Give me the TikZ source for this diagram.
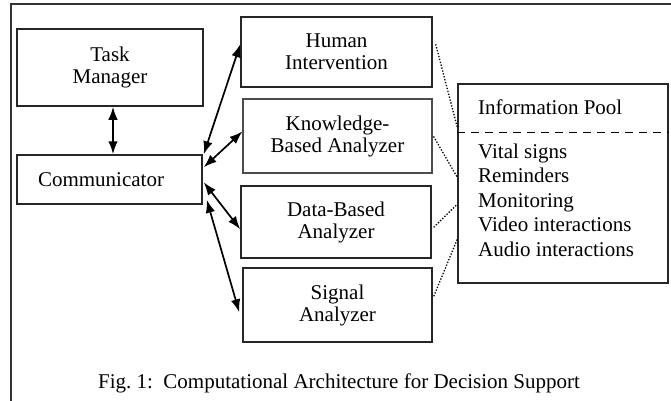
\documentclass[tikz,border=0pt]{standalone}
\usepackage{fontspec}
\setmainfont{Liberation Serif}
\usetikzlibrary{arrows.meta,calc}
\begin{document}
\begin{tikzpicture}[x=1pt,y=-1pt,
  every node/.style={font=\fontsize{21}{22}\selectfont},
  box/.style={draw=black!85, line width=1.5pt, inner sep=0pt, align=center},
  link/.style={line width=1.7pt, {Latex[length=13pt,width=9.5pt]}-{Latex[length=13pt,width=9.5pt]}},
  dots/.style={line width=1.3pt, dash pattern=on 1.3pt off 1.7pt, black},
  plain/.style={inner sep=0pt}]
\useasboundingbox (0,0) rectangle (671,400);
\clip (0,0) rectangle (671,400);
\draw[line width=1.5pt, black!80] (11,4) rectangle (720,430);

\node[box, minimum width=186pt, minimum height=77pt] (tm) at (110,67.5) {Task\\Manager};
\node[box, minimum width=185pt, minimum height=49pt, text width=143pt, inner xsep=21pt, align=left] (comm) at (109.5,179.5) {Communicator};
\node[box, minimum width=191pt, minimum height=70pt] (hum) at (336.5,52) {Human\\Intervention};
\node[box, draw=black!70, line width=1.1pt, minimum width=189pt, minimum height=74pt] (kn) at (337.5,136) {Knowledge-\\Based Analyzer};
\node[box, minimum width=190pt, minimum height=72pt] (data) at (336,222) {Data-Based\\Analyzer};
\node[box, minimum width=189pt, minimum height=74pt] (sig) at (337.5,305) {Signal\\Analyzer};
\node[box, minimum width=210pt, minimum height=199pt] (pool) at (563,183.5) {};

\node[plain, anchor=base west] (poolhead) at (478,114) {Information Pool};
\node[plain, anchor=base west, align=left, font=\fontsize{21}{24.5}\selectfont] (poolitems) at (478,256)
  {Vital signs\\Reminders\\Monitoring\\Video interactions\\Audio interactions};
\draw[line width=1.4pt, dash pattern=on 8pt off 6pt] ($(pool.north west)+(0,49)$) -- ($(pool.north east)+(0,49)$);

\coordinate (ax) at (113,0);
\draw[link] (tm.south -| ax) -- (comm.north -| ax);
\draw[link] ($(comm.north east)+(1,0)$) -- ($(hum.north west)+(0,28)$);
\draw[link] ($(comm.north east)+(1,13)$) -- ($(kn.north west)+(0,33)$);
\draw[link] ($(comm.north east)+(1,28)$) -- ($(data.north west)+(0,44)$);
\draw[link] ($(comm.south east)+(4,-5)$) -- ($(sig.north west)+(-3,45)$);

\draw[dots] ($(hum.north east)+(3,28)$) -- ($(pool.north west)+(0,44)$);
\draw[dots] ($(kn.north east)+(1,38)$) -- ($(pool.north west)+(0,94)$);
\draw[dots] ($(data.north east)+(2,42)$) -- ($(pool.north west)+(0,121)$);
\draw[dots] ($(sig.north east)+(1,29)$) -- ($(pool.north west)+(0,156)$);

\node[plain, anchor=base] (caption) at (339,388) {Fig.\ 1:\ \ Computational Architecture for Decision Support};
\end{tikzpicture}
\end{document}
